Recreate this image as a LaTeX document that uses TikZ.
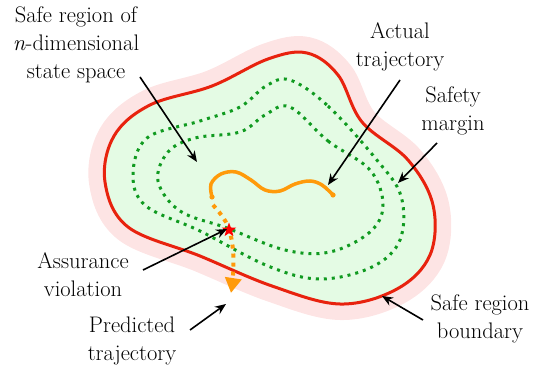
\documentclass[tikz,border=0pt]{standalone}
\usetikzlibrary{arrows.meta,shapes.geometric}
\definecolor{halo}{HTML}{FDE4E4}
\definecolor{safefill}{HTML}{E4FBE4}
\definecolor{bred}{HTML}{E8220E}
\definecolor{dgreen}{HTML}{109A20}
\definecolor{traj}{HTML}{FF9A0A}
\tikzset{
  lbl/.style={align=center, font=\fontsize{22.5}{28}\selectfont, inner sep=0pt},
  callout/.style={draw=black, line width=1.6pt, -{Stealth[length=11pt,width=9pt]}},
  margindots/.style={draw=dgreen, line width=3pt, dash pattern=on 3pt off 5pt},
}
\begin{document}
\begin{tikzpicture}[x=1pt,y=-1pt]
\useasboundingbox (0,0) rectangle (537,371);
\def\boundary{(105,182) (114,136) (150,105) (212,86) (268,59) (307,53) (338,75) (362,122) (408,160) (433,205) (430,255) (397,289) (340,304) (272,286) (200,256) (128,227)}
% halo
\draw[halo, line width=32pt, line join=round] plot[smooth cycle, tension=0.6] coordinates {\boundary};
\fill[safefill] plot[smooth cycle, tension=0.6] coordinates {\boundary};
% safety margins
\draw[margindots] plot[smooth cycle, tension=0.6] coordinates {(290,80) (328,106) (376,159) (401,196) (400,240) (372,267) (320,279) (268,266) (200,231) (146,206) (133,175) (147,138) (200,121) (240,107) (266,86)};
\draw[margindots] plot[smooth cycle, tension=0.6] coordinates {(290,107) (328,141) (370,170) (383,205) (370,232) (330,252) (285,250) (227,228) (180,211) (158,181) (168,152) (195,138) (240,132) (265,115)};
% boundary
\draw[bred, line width=3pt] plot[smooth cycle, tension=0.6] coordinates {\boundary};
% actual trajectory
\draw[traj, line width=3.5pt, line cap=round] plot[smooth, tension=0.6] coordinates {(212,197) (211,184) (221,174) (236,172) (251,180) (265,190) (280,191) (295,184) (310,181) (322,185) (333,195)};
\fill[traj] (212,197) circle (2.6pt);
\fill[traj] (333,195) circle (2.6pt);
% predicted trajectory
\draw[traj, line width=4pt, dash pattern=on 4pt off 5pt, -{Triangle[length=15pt,width=16pt]}] plot[smooth, tension=0.6] coordinates {(213,205) (222,216) (229,229) (233,250) (233,275) (231,293)};
% violation star
\node[star, star points=5, star point ratio=2.4, fill=red, minimum size=15pt, inner sep=0pt] (viol) at (229,230) {};
% labels
\node[lbl] (lsafe) at (76,45) {Safe region of\\\textit{n}-dimensional\\state space};
\node[lbl] (lact) at (400,47) {Actual\\trajectory};
\node[lbl] (lmarg) at (453,111) {Safety\\margin};
\node[lbl] (lviol) at (83,275) {Assurance\\violation};
\node[lbl] (lpred) at (132,341) {Predicted\\trajectory};
\node[lbl] (lbound) at (480,319) {Safe region\\boundary};
% callout ends
\coordinate (a1s) at (140,77);  \coordinate (a1e) at (197,162);
\coordinate (a2s) at (400,80);  \coordinate (a2e) at (328,185);
\coordinate (a3s) at (437,143); \coordinate (a3e) at (398,183);
\coordinate (a4s) at (143,270); \coordinate (a4e) at (227,229);
\coordinate (a5s) at (190,330); \coordinate (a5e) at (226,304);
\coordinate (a6s) at (423,320); \coordinate (a6e) at (382,296);
\draw[callout] (a1s) -- (a1e);
\draw[callout] (a2s) -- (a2e);
\draw[callout] (a3s) -- (a3e);
\draw[callout] (a4s) -- (a4e);
\draw[callout] (a5s) -- (a5e);
\draw[callout] (a6s) -- (a6e);
\end{tikzpicture}
\end{document}
